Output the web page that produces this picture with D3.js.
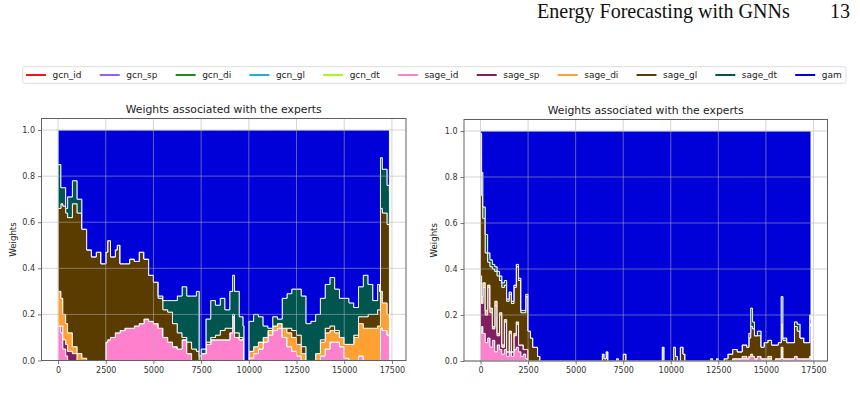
<!DOCTYPE html>
<html><head><meta charset="utf-8">
<script src="https://cdn.jsdelivr.net/npm/d3@7"></script>
<style>body{margin:0;background:#fff}svg{display:block}</style>
</head><body>
<svg id="chart" width="860" height="411"></svg>
<script>
// ---------- series / legend ----------
const seriesNames  = ["gcn_id","gcn_sp","gcn_di","gcn_gl","gcn_dt","sage_id","sage_sp","sage_di","sage_gl","sage_dt","gam"];
const seriesColors = ["#e8191c","#9d5cf5","#1f8a1f","#1bb3cf","#a8f52a","#ff80cc","#7f1f5f","#ffa033","#5a3c00","#00554f","#0000d8"];
const stackKeys = ["sage_id","sage_sp","sage_di","sage_gl","sage_dt","gam"];
const xTicks = [0,2500,5000,7500,10000,12500,15000,17500];
const yTicks = [0,0.2,0.4,0.6,0.8,1.0];
const chartTitle = "Weights associated with the experts";
const yLabel = "Weights";

// ---------- left panel ----------
const leftX = [0,150,250,400,500,750,1000,1250,1500,1750,2000,2250,2500,2600,2750,3000,3100,3250,3500,3750,4000,4250,4500,4750,5000,5250,5500,5750,6000,6250,6500,6750,7000,7250,7400,7500,7750,8000,8250,8500,8750,9000,9150,9250,9500,9700,9750,9950,10000,10250,10500,10750,11000,11250,11500,11750,12000,12250,12500,12750,13000,13250,13500,13750,14000,14250,14500,14750,15000,15250,15500,15750,16000,16250,16500,16750,16850,16900,17000,17250,17370];
const leftSageId = [.15,.12,.05,.02,0,0,0,0,0,0,0,0,.08,.09,.10,.12,.12,.13,.14,.14,.15,.16,.18,.17,.16,.14,.10,.08,.06,.05,.09,.03,0,0,0,.03,.07,.09,.09,.09,.09,.12,.19,.10,.09,.09,0,0,.01,.03,.05,.08,.11,.13,.14,.10,.06,.04,.02,0,0,0,0,.02,.05,.08,.08,.06,.01,0,0,.02,0,0,0,0,0,.14,.13,.11,.10];
const leftSageSp = [0,.03,.04,.05,.04,.03,0,0,0,0,0,0,0,0,0,0,0,0,0,0,0,0,0,0,0,0,0,0,0,0,0,0,0,0,0,0,0,0,0,0,0,0,0,0,0,0,0,0,0,0,0,0,0,0,0,0,0,0,0,0,0,0,0,0,0,0,0,0,0,0,0,0,0,0,0,0,0,0,0,0,0];
const leftSageDi = [.15,.12,.11,.09,.08,.03,.03,.01,0,0,0,0,0,0,0,0,0,0,0,0,0,0,0,0,0,0,0,0,0,0,0,0,0,0,0,0,0,0,0,0,0,0,0,0,0,0,0,0,.03,.03,.03,.02,.02,.02,.02,.04,.06,.06,.05,.03,0,0,.03,.06,.07,.05,.04,.04,.06,.07,.10,.14,.14,.14,.14,.15,.15,.16,.12,.09,.08];
const leftSageGl = [.36,.41,.47,.48,.50,.62,.61,.56,.48,.45,.47,.42,.39,.43,.35,.36,.38,.29,.28,.30,.28,.31,.26,.20,.18,.13,.12,.13,.10,.07,.01,.05,.05,.04,0,0,.01,.01,.02,.04,.05,.02,.01,.02,.01,0,0,0,0,0,0,0,0,0,0,0,.02,.03,.04,.03,0,0,0,.01,.02,.02,.01,0,0,0,.01,.03,.05,.06,.06,.07,.07,.36,.39,.39,.40];
const leftSageDt = [.19,.07,.08,.02,.09,.10,.06,0,0,0,0,0,0,0,0,0,0,0,0,0,0,0,0,0,0,.01,.04,.05,.10,.16,.22,.20,.23,.26,.02,.02,.10,.16,.13,.14,.08,.16,.17,.18,.09,.06,0,0,.13,.14,.11,.05,.01,.04,.02,.13,.15,.18,.20,.22,.16,.17,.17,.18,.19,.21,.18,.17,.20,.18,.12,.13,.18,.13,.06,.11,.08,.22,.19,.17,.15];
const leftGam    = [.15,.25,.25,.34,.29,.22,.30,.43,.52,.55,.53,.58,.53,.48,.55,.52,.50,.58,.58,.56,.57,.53,.56,.63,.66,.72,.74,.74,.74,.72,.68,.72,.72,.70,.98,.95,.82,.74,.76,.73,.78,.70,.63,.70,.81,.85,1,1,.83,.80,.81,.85,.86,.81,.82,.73,.71,.69,.69,.72,.84,.83,.80,.73,.67,.64,.69,.73,.73,.75,.77,.68,.63,.67,.74,.67,.70,.12,.17,.24,.27];

// ---------- right panel ----------
const rightX = [0,60,125,250,375,500,625,750,875,1000,1125,1250,1375,1500,1625,1750,1875,2000,2125,2250,2375,2500,2625,2750,2875,3000,3125,6400,6500,6600,6700,7150,7250,7500,7650,9550,9650,10150,10250,10350,10500,10650,10750,12100,12200,12400,12500,12800,13000,13250,13500,13750,14000,14100,14200,14300,14400,14550,14750,14900,15100,15300,15500,15650,15800,15900,16100,16300,16500,16650,16800,17000,17200,17300,17370];
const rightSageId = [.12,.15,.12,.08,.10,.06,.09,.04,.07,.05,.03,.05,.02,.04,.02,.05,.06,.04,.02,.03,.01,0,0,0,0,0,0,0,0,0,0,0,0,0,0,0,0,0,0,0,0,0,0,0,0,0,0,0,0,.01,.01,.01,.01,.02,.02,.02,.01,.02,.01,.01,.01,0,.01,.01,.02,.01,.01,.01,.02,.01,.01,.01,.01,.02,.02];
const rightSageSp = [.20,.10,.20,.12,.22,.15,.05,.20,.04,.15,.03,.12,.02,.08,.02,.06,.10,.03,.05,.02,.04,0,0,0,0,0,0,0,0,0,0,0,0,0,0,0,0,0,0,0,0,0,0,0,0,0,0,0,0,0,0,0,0,0,0,0,0,0,0,0,0,0,0,0,.02,0,0,0,0,0,0,0,0,0,0];
const rightSageDi = [.05,.03,.02,.02,.01,.02,.01,.02,.01,.01,.01,.01,0,.01,0,.01,.01,0,0,0,0,0,0,0,0,0,0,0,0,0,0,0,0,0,0,0,0,0,0,0,0,0,0,0,0,0,0,0,0,0,0,.01,0,0,.01,0,0,0,0,0,.01,0,0,0,.02,0,0,0,0,0,0,0,0,0,0];
const rightSageGl = [.52,.44,.28,.25,.10,.18,.25,.13,.25,.14,.25,.15,.22,.16,.21,.20,.24,.28,.14,.16,.23,.13,.10,.06,.06,.02,0,.03,.01,.04,0,.01,0,.03,0,.06,0,.06,.02,0,.06,.03,0,.01,0,.01,0,.01,.03,.04,.03,.05,.05,.08,.12,.12,.10,.09,.05,.07,.07,.07,.06,.07,.10,.08,.07,.07,.13,.12,.09,.07,.07,.14,.13];
const rightSageDt = [.10,.10,.05,.08,.04,.03,.02,.02,.02,.02,.02,.02,.01,.01,.01,.01,.01,.01,.01,.01,.01,0,0,0,0,0,0,0,0,0,0,0,0,0,0,0,0,0,0,0,0,0,0,0,0,0,0,0,0,0,0,0,0,.02,.08,.03,0,.02,0,0,0,0,0,0,.12,.01,0,0,.02,.03,0,0,0,.04,.03];
const rightGam    = [.01,.18,.33,.45,.53,.56,.58,.59,.61,.63,.66,.65,.73,.70,.74,.67,.58,.64,.78,.78,.71,.87,.90,.94,.94,.98,1,.97,.99,.96,1,.99,1,.97,1,.94,1,.94,.98,1,.94,.97,1,.99,1,.99,1,.99,.97,.95,.96,.93,.94,.88,.77,.83,.89,.87,.94,.92,.91,.93,.93,.92,.72,.90,.92,.92,.83,.84,.90,.92,.92,.80,.82];

// ---------- drawing ----------
const svg = d3.select("#chart");
const FONT = "DejaVu Sans, sans-serif";

function buildRows(xs, cols) {
  return xs.map((x, i) => {
    const r = {x};
    stackKeys.forEach((k, j) => r[k] = cols[j][i]);
    return r;
  });
}
const colorOf = k => seriesColors[seriesNames.indexOf(k)];

function drawPanel(id, frame, rows, labelX) {
  const g = svg.append("g");
  const [x0, x1] = d3.extent(rows, d => d.x);
  const pad = 0.05 * (x1 - x0);
  const x = d3.scaleLinear().domain([x0 - pad, x1 + pad]).range([frame.left, frame.right]);
  const y = d3.scaleLinear().domain([0, 1.05]).range([frame.bottom, frame.top]);

  g.append("clipPath").attr("id", "clip" + id)
    .append("rect").attr("x", frame.left).attr("y", frame.top)
    .attr("width", frame.right - frame.left).attr("height", frame.bottom - frame.top);

  const series = d3.stack().keys(stackKeys)(rows);
  const area = d3.area().curve(d3.curveStepAfter)
    .x(d => x(d.data.x)).y0(d => y(d[0])).y1(d => y(d[1]));

  g.append("g").attr("clip-path", `url(#clip${id})`)
    .selectAll("path").data(series).join("path")
    .attr("d", area)
    .attr("fill", s => colorOf(s.key))
    .attr("stroke", "#ffffff").attr("stroke-width", 0.9)
    .attr("stroke-linejoin", "miter");

  // grid
  const grid = g.append("g").attr("stroke", "#b0b0b0").attr("stroke-opacity", 0.6).attr("stroke-width", 0.9);
  grid.selectAll(".vx").data(xTicks).join("line")
    .attr("x1", d => x(d)).attr("x2", d => x(d)).attr("y1", frame.top).attr("y2", frame.bottom);
  grid.selectAll(".hy").data(yTicks).join("line")
    .attr("x1", frame.left).attr("x2", frame.right).attr("y1", d => y(d)).attr("y2", d => y(d));

  // axes
  const xAxis = d3.axisBottom(x).tickValues(xTicks).tickFormat(d3.format("d")).tickSize(3.5).tickPadding(3);
  const yAxis = d3.axisLeft(y).tickValues(yTicks).tickFormat(d3.format(".1f")).tickSize(3.5).tickPadding(3);
  const gx = g.append("g").attr("transform", `translate(0,${frame.bottom})`).call(xAxis);
  const gy = g.append("g").attr("transform", `translate(${frame.left},0)`).call(yAxis);
  [gx, gy].forEach(a => {
    a.select(".domain").remove();
    a.selectAll("line").attr("stroke", "#555").attr("stroke-width", 0.8);
    a.selectAll("text").attr("fill", "#333").style("font-family", FONT).style("font-size", "8px");
  });

  // frame
  g.append("rect").attr("x", frame.left).attr("y", frame.top)
    .attr("width", frame.right - frame.left).attr("height", frame.bottom - frame.top)
    .attr("fill", "none").attr("stroke", "#606060").attr("stroke-width", 1);

  // title
  g.append("text").attr("x", (frame.left + frame.right) / 2).attr("y", frame.top - 6)
    .attr("text-anchor", "middle").attr("fill", "#222")
    .style("font-family", FONT).style("font-size", "10.8px").text(chartTitle);

  // y label
  g.append("text").attr("transform", `translate(${labelX},${(frame.top + frame.bottom) / 2}) rotate(-90)`)
    .attr("text-anchor", "middle").attr("fill", "#222")
    .style("font-family", FONT).style("font-size", "8.6px").text(yLabel);
}

drawPanel("L", {left: 41.5, right: 406, top: 118.5, bottom: 360.5},
  buildRows(leftX, [leftSageId, leftSageSp, leftSageDi, leftSageGl, leftSageDt, leftGam]), 15.7);
drawPanel("R", {left: 464, right: 827.5, top: 119.5, bottom: 361},
  buildRows(rightX, [rightSageId, rightSageSp, rightSageDi, rightSageGl, rightSageDt, rightGam]), 437);

// ---------- legend ----------
const leg = svg.append("g");
const legBox = {left: 22.7, right: 846, top: 66.7, bottom: 83.3};
leg.append("rect").attr("x", legBox.left).attr("y", legBox.top)
  .attr("width", legBox.right - legBox.left).attr("height", legBox.bottom - legBox.top)
  .attr("rx", 2).attr("fill", "#fff").attr("stroke", "#d4d4d4").attr("stroke-width", 0.8);
const texts = seriesNames.map(n => leg.append("text").style("font-family", FONT)
  .style("font-size", "9px").attr("fill", "#222").text(n));
const widths = texts.map(t => t.node().getComputedTextLength());
const lineW = 20, lineGap = 6.5, startX = 26, endX = 841.7;
const used = d3.sum(widths) + seriesNames.length * (lineW + lineGap);
const gap = (endX - startX - used) / (seriesNames.length - 1);
let cx = startX;
seriesNames.forEach((n, i) => {
  leg.append("line").attr("x1", cx).attr("x2", cx + lineW).attr("y1", 75).attr("y2", 75)
    .attr("stroke", seriesColors[i]).attr("stroke-width", 2);
  texts[i].attr("x", cx + lineW + lineGap).attr("y", 78.2);
  cx += lineW + lineGap + widths[i] + gap;
});

// ---------- running header ----------
const head = svg.append("text").attr("y", 18).attr("x", 537)
  .style("font-family", "Liberation Serif, DejaVu Serif, serif").style("font-size", "10px")
  .attr("fill", "#111").text("Energy Forecasting with GNNs");
const hw = head.node().getComputedTextLength();
const hs = 10 * 253 / hw;
head.style("font-size", hs + "px");
svg.append("text").attr("x", 850).attr("y", 18).attr("text-anchor", "end")
  .style("font-family", "Liberation Serif, DejaVu Serif, serif").style("font-size", hs + "px")
  .attr("fill", "#111").text("13");
</script>
</body></html>
